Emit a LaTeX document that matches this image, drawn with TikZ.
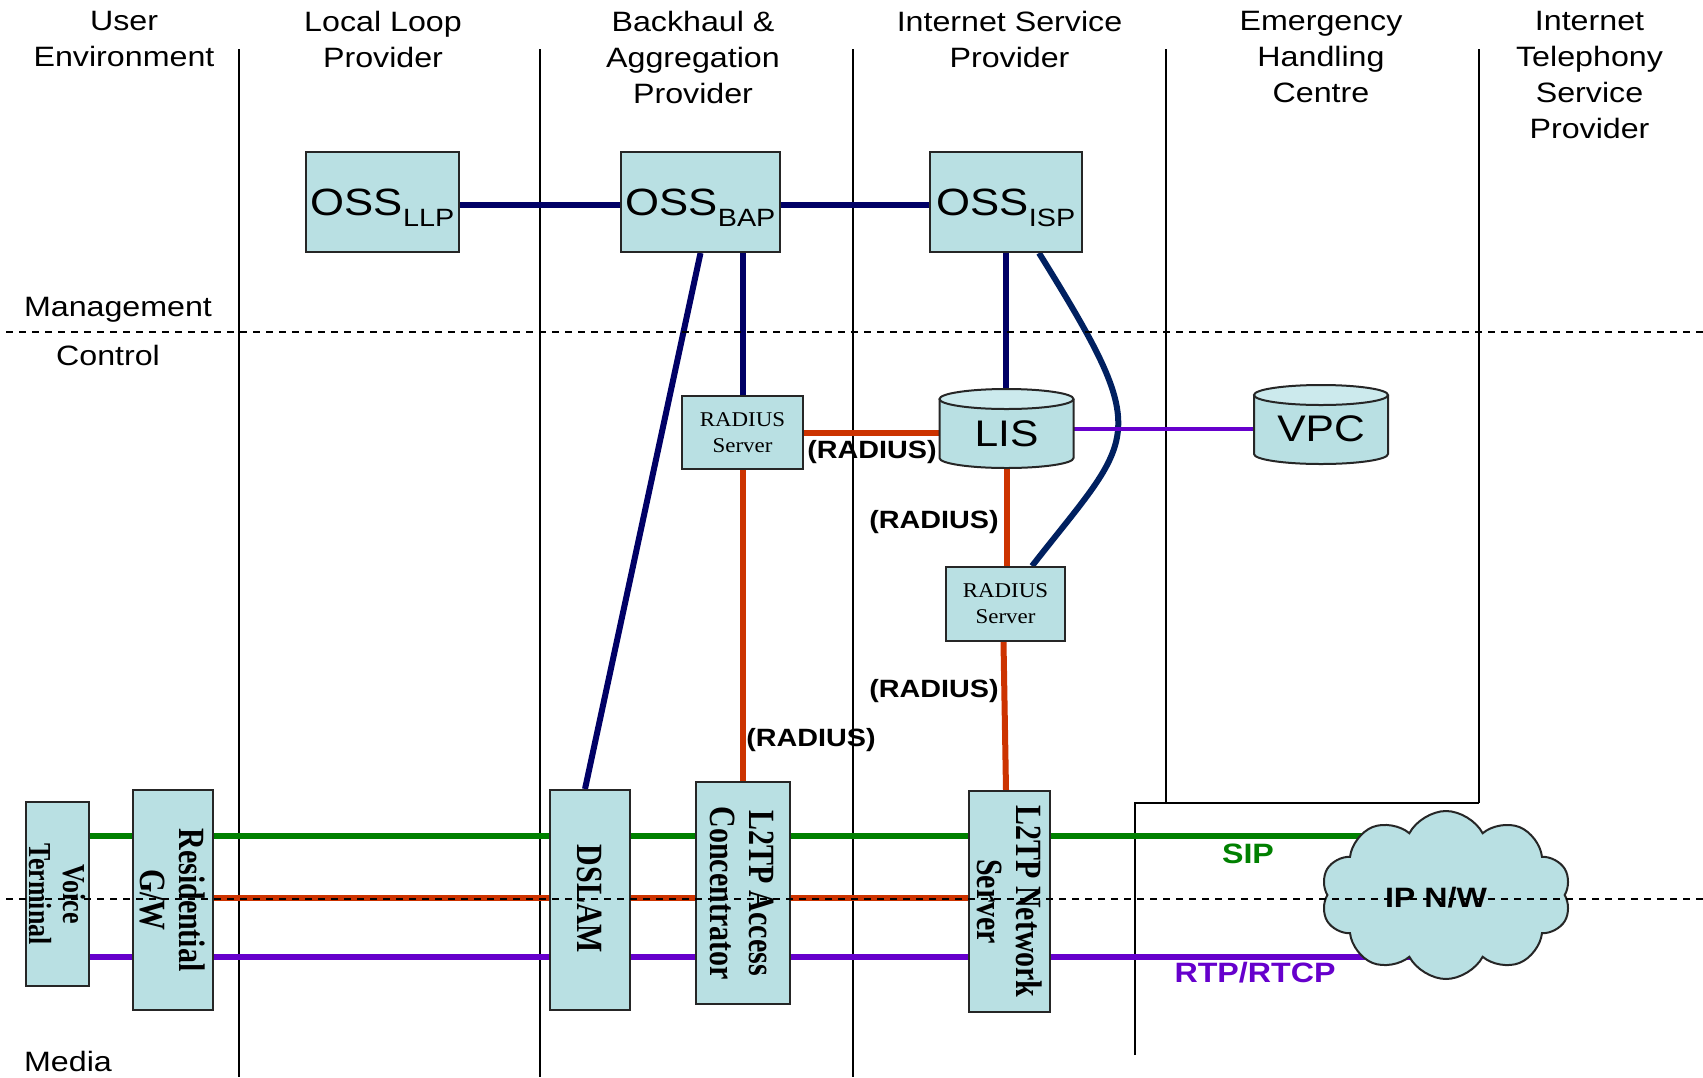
\documentclass[tikz,border=0pt]{standalone}
\usepackage{graphicx}
\usepackage{fontspec}
\setmainfont{Liberation Sans}[FakeStretch=1.15]
\newfontfamily\labelserif{Liberation Serif}[FakeStretch=1.09]
\newfontfamily\uprightserif{Liberation Serif}[FakeStretch=0.81]
\usetikzlibrary{shapes.symbols,calc}

\definecolor{boxfill}{RGB}{185,224,227}
\definecolor{boxtop}{RGB}{204,234,237}
\definecolor{mgmtnavy}{RGB}{0,0,102}
\definecolor{curvenavy}{RGB}{0,32,96}
\definecolor{radred}{RGB}{204,51,0}
\definecolor{sipgreen}{RGB}{0,128,0}
\definecolor{rtppurple}{RGB}{102,0,204}

\pgfdeclarelayer{wires}
\pgfsetlayers{wires,main}

% subscript of the OSS boxes
\newcommand\subtag[1]{\raisebox{-11pt}[0pt][0pt]{\fontsize{25}{25}\selectfont #1}}
% database drum: centre x, top-ellipse y, bottom-ellipse y, x radius, y radius
\newcommand\drumshape[5]{%
  \filldraw[unitline, fill=boxfill] ({#1-#4},#2) -- ({#1-#4},#3)
     arc[start angle=180, end angle=0, x radius=#4, y radius=#5] -- ({#1+#4},#2);
  \filldraw[unitline, fill=boxtop] (#1,#2) ellipse[x radius=#4, y radius=#5];
}

\begin{document}
\begin{tikzpicture}[x=1pt,y=-1pt,
  unitline/.style={draw=black!85, line width=2pt},
  unit/.style={unitline, fill=boxfill, inner sep=0pt},
  ossbox/.style={unit, minimum height=100pt, font=\fontsize{38}{44}\selectfont},
  radbox/.style={unit, minimum height=73pt, align=center, font=\labelserif\fontsize{21}{26}\selectfont},
  rottext/.style={inner sep=0pt, font=\uprightserif\bfseries\fontsize{37}{39}\selectfont},
  hdr/.style={anchor=north, inner sep=0pt, align=center, font=\fontsize{28}{36}\selectfont},
  plane/.style={anchor=base, inner sep=0pt, font=\fontsize{28}{36}\selectfont},
  proto/.style={inner sep=0pt, font=\bfseries\fontsize{25}{30}\selectfont},
  medialabel/.style={inner sep=0pt, font=\bfseries\fontsize{28}{34}\selectfont},
  sep/.style={line width=1.6pt, black},
  planeline/.style={line width=1.5pt, black, dash pattern=on 7pt off 6pt},
  mgmt/.style={line width=6pt, mgmtnavy},
  radius/.style={line width=6pt, radred},
  sip/.style={line width=5.5pt, sipgreen},
  rtp/.style={line width=5.5pt, rtppurple},
]
\useasboundingbox (0,0) rectangle (1703,1077);

% ---------- column headings ----------
\node[hdr] (hUser) at (124,11.5)    {User\\Environment};
\node[hdr] (hLLP)  at (383,11.5)    {Local Loop\\Provider};
\node[hdr] (hBAP)  at (693,11.5)    {Backhaul \&\\Aggregation\\Provider};
\node[hdr] (hISP)  at (1009.5,11.5) {Internet Service\\Provider};
\node[hdr] (hEHC)  at (1321,11.5)   {Emergency\\Handling\\Centre};
\node[hdr] (hITSP) at (1589.5,11.5) {Internet\\Telephony\\Service\\Provider};

% ---------- plane names ----------
\node[plane] (lMgmt)  at (118,316.7) {Management};
\node[plane] (lCtl)   at (108,365)   {Control};
\node[plane] (lMedia) at (68,1071.7) {Media};

% ---------- management plane ----------
\node[ossbox, minimum width=153pt] (ossllp) at (382.5,202) {OSS\subtag{LLP}};
\node[ossbox, minimum width=159pt] (ossbap) at (700.5,202) {OSS\subtag{BAP}};
\node[ossbox, minimum width=152pt] (ossisp) at (1006,202)  {OSS\subtag{ISP}};

% ---------- control plane ----------
\node[radbox, minimum width=121pt] (rad1) at (742.5,432.5) {RADIUS\\Server};
\node[radbox, minimum width=119pt, minimum height=74pt] (rad2) at (1005.5,604) {RADIUS\\Server};

\drumshape{1006.5}{399}{458}{67}{10}
\node[inner sep=0pt, minimum width=134pt, minimum height=79pt, font=\fontsize{37}{42}\selectfont]
  (lis) at (1006.5,428.5) {\raisebox{-5pt}[\height][0pt]{LIS}};
\drumshape{1321}{395}{454}{67}{10}
\node[inner sep=0pt, minimum width=134pt, minimum height=79pt, font=\fontsize{37}{42}\selectfont]
  (vpc) at (1321,424.5) {\raisebox{-4pt}[\height][0pt]{VPC}};

% ---------- media plane ----------
\node[unit, minimum width=63pt, minimum height=184pt] (vt)    at (57.5,894)   {};
\node[unit, minimum width=80pt, minimum height=220pt] (rgw)   at (173,900)    {};
\node[unit, minimum width=80pt, minimum height=220pt] (dslam) at (590,900)    {};
\node[unit, minimum width=94pt, minimum height=222pt] (lac)   at (743,893)    {};
\node[unit, minimum width=81pt, minimum height=221pt] (lns)   at (1009.5,901.5) {};

\node[rottext, font=\uprightserif\bfseries\fontsize{32}{34}\selectfont] (vtText) at (52.8,894)
  {\rotatebox{-90}{\begin{tabular}{@{}c@{}}Voice\\Terminal\end{tabular}}};
\node[rottext] (rgwText)   at (167.3,900) {\rotatebox{-90}{\begin{tabular}{@{}c@{}}Residential\\G/W\end{tabular}}};
\node[rottext] (dslamText) at (589.5,899) {\rotatebox{-90}{DSLAM}};
\node[rottext] (lacText)   at (737.3,893) {\rotatebox{-90}{\begin{tabular}{@{}c@{}}L2TP Access\\Concentrator\end{tabular}}};
\node[rottext] (lnsText)   at (1004.3,901.5) {\rotatebox{-90}{\begin{tabular}{@{}c@{}}L2TP Network\\Server\end{tabular}}};

\node[cloud, cloud puffs=10, cloud puff arc=125, unit, minimum width=250pt, minimum height=168pt]
  (ipnw) at (1446,895) {};
\node[medialabel] (ipnwText) at (1436,897.5) {IP N/W};

% ---------- protocol labels ----------
\node[proto] (radLblA) at (872,452) {(RADIUS)};
\node[proto] (radLblB) at (934,522) {(RADIUS)};
\node[proto] (radLblC) at (934,691) {(RADIUS)};
\node[proto] (radLblD) at (811,740) {(RADIUS)};
\node[medialabel, text=sipgreen]  (sipLbl) at (1248,853.5) {SIP};
\node[medialabel, text=rtppurple] (rtpLbl) at (1255,973)   {RTP/RTCP};

% ---------- rows used by the horizontal links ----------
\coordinate (mgmtRow) at (0,205);
\coordinate (radRow)  at (0,432.5);
\coordinate (vpcRow)  at (0,429);
\coordinate (sipRow)  at (0,836);
\coordinate (ctlRow)  at (0,898);
\coordinate (rtpRow)  at (0,957);

\begin{pgfonlayer}{wires}
  % provider boundaries
  \draw[sep] (239,49) -- (239,1077);
  \draw[sep] (540,49) -- (540,1077);
  \draw[sep] (853,49) -- (853,1077);
  \draw[sep] (1166,49) -- (1166,803);
  \draw[sep] (1479,49) -- (1479,803);
  \draw[sep] (1135,1055) -- (1135,803) -- (1479,803);

  % media plane flows
  \draw[sip] (vt.east |- sipRow) -- (ipnw.center |- sipRow);
  \draw[radius] (rgw.east |- ctlRow) -- (lns.west |- ctlRow);
  \draw[rtp] (vt.east |- rtpRow) -- (ipnw.center |- rtpRow);

  % management links
  \draw[mgmt] (ossllp.east |- mgmtRow) -- (ossbap.west |- mgmtRow);
  \draw[mgmt] (ossbap.east |- mgmtRow) -- (ossisp.west |- mgmtRow);
  \draw[mgmt] (ossbap.south) -- ($(dslam.north)+(-5,0)$);
  \draw[mgmt] (rad1.north |- ossbap.south) -- (rad1.north);
  \draw[mgmt] (ossisp.south) -- (ossisp.south |- lis.north);
  \draw[line width=6pt, curvenavy] ($(ossisp.south)+(33,0)$)
     .. controls (1155,440) and (1136,433) .. ($(rad2.north)+(26.5,0)$);

  % RADIUS links
  \draw[radius] (rad1.east |- radRow) -- (lis.west |- radRow);
  \draw[radius] (rad1.south) -- (rad1.south |- lac.north);
  \draw[radius] (lis.south) -- (lis.south |- rad2.north);
  \draw[radius] ($(rad2.south)+(-2,0)$) -- ($(lns.north)+(-3.5,0)$);

  % location lookup
  \draw[line width=4.5pt, rtppurple] (lis.east |- vpcRow) -- (vpc.west |- vpcRow);
\end{pgfonlayer}

% plane boundaries
\draw[planeline] (6,332) -- (1703,332);
\draw[planeline] (6,899) -- (1703,899);
\end{tikzpicture}
\end{document}
